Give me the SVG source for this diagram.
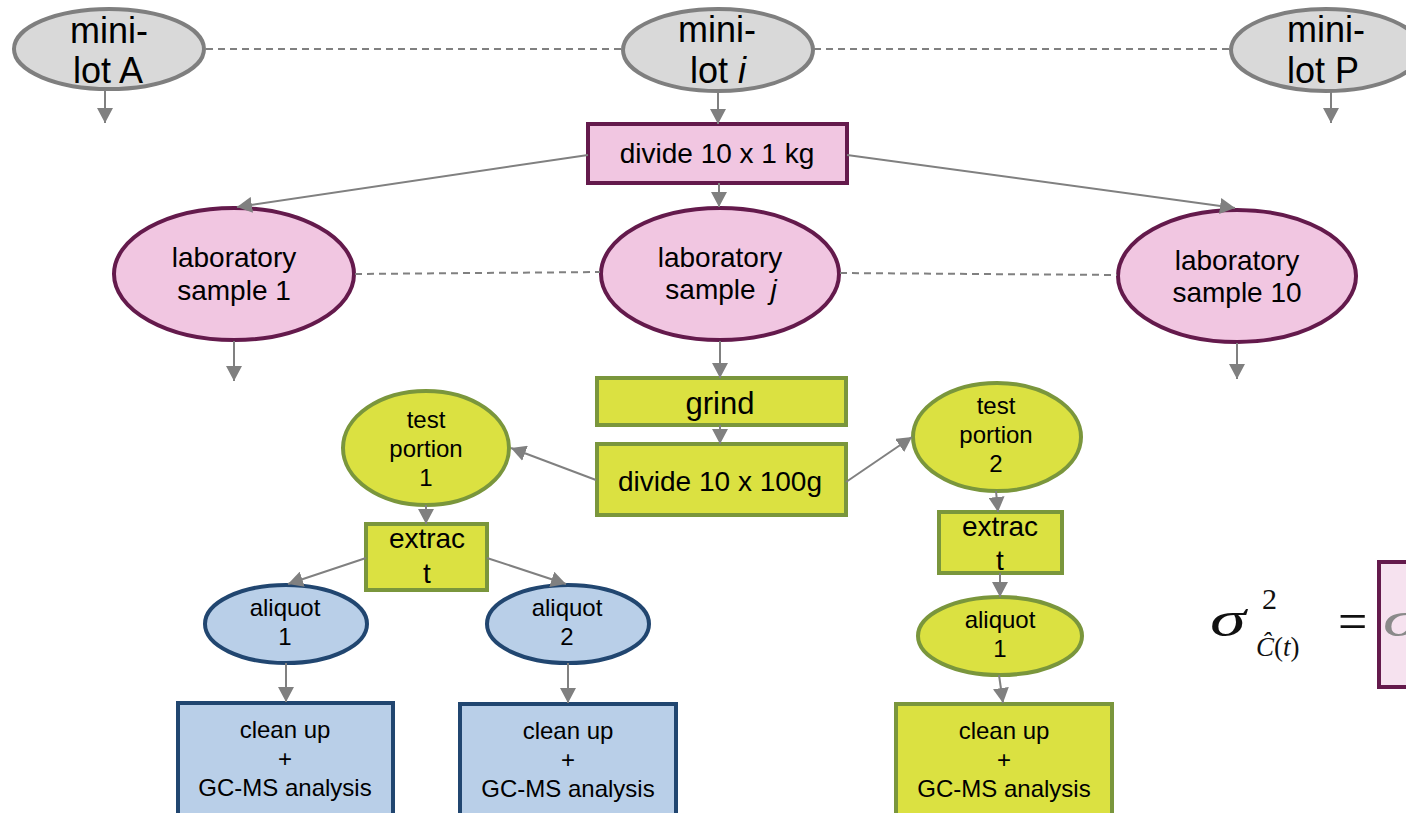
<svg xmlns="http://www.w3.org/2000/svg" width="1406" height="813" viewBox="0 0 1406 813">
  <defs>
    <marker id="arrow" markerUnits="userSpaceOnUse" markerWidth="16" markerHeight="16" refX="15" refY="8" orient="auto">
      <path d="M0,0 L15,8 L0,16 Z" fill="#808080"/>
    </marker>
    <style>
      text { font-family: "Liberation Sans", Arial, sans-serif; fill: #000; text-anchor: middle; }
      .lot { fill: #d9d9d9; stroke: #7f7f7f; stroke-width: 4; }
      .pink { fill: #f1c6e1; stroke: #641a4c; stroke-width: 4; }
      .green { fill: #dbe141; stroke: #7a963c; stroke-width: 4; }
      .blue { fill: #b9cfe8; stroke: #214670; stroke-width: 4; }
      .t36 { font-size: 36px; }
      .t31 { font-size: 31px; }
      .t28 { font-size: 28px; }
      .t24 { font-size: 24px; }
      .link { stroke: #808080; stroke-width: 2; fill: none; marker-end: url(#arrow); }
      .dash { stroke: #808080; stroke-width: 2; fill: none; stroke-dasharray: 7 5; }
      .math { font-family: "Liberation Serif", "Times New Roman", serif; text-anchor: start; fill: #111; }
    </style>
  </defs>

  <!-- mini-lots -->
  <g id="minilot-a">
    <ellipse class="lot" cx="109" cy="49" rx="95" ry="40"/>
    <text class="t36" x="109" y="43">mini-</text>
    <text class="t36" x="108" y="83">lot A</text>
  </g>
  <g id="minilot-i">
    <ellipse class="lot" cx="718" cy="50" rx="95" ry="41"/>
    <text class="t36" x="717" y="42">mini-</text>
    <text class="t36" x="718" y="83">lot <tspan font-style="italic">i</tspan></text>
  </g>
  <g id="minilot-p">
    <ellipse class="lot" cx="1326" cy="50" rx="95" ry="41"/>
    <text class="t36" x="1326" y="42">mini-</text>
    <text class="t36" x="1323" y="83">lot P</text>
  </g>

  <!-- primary division -->
  <g id="divide-1kg">
    <rect class="pink" x="588" y="124" width="259" height="59"/>
    <text class="t28" x="717" y="163">divide 10 x 1 kg</text>
  </g>

  <!-- laboratory samples -->
  <g id="lab-1">
    <ellipse class="pink" cx="234" cy="274" rx="120" ry="66"/>
    <text class="t28" x="234" y="267">laboratory</text>
    <text class="t28" x="234" y="300">sample 1</text>
  </g>
  <g id="lab-j">
    <ellipse class="pink" cx="720" cy="274" rx="119" ry="66"/>
    <text class="t28" x="720" y="267">laboratory</text>
    <text class="t28" x="721" y="299">sample <tspan dx="7" font-style="italic">j</tspan></text>
  </g>
  <g id="lab-10">
    <ellipse class="pink" cx="1237" cy="276" rx="119" ry="66"/>
    <text class="t28" x="1237" y="270">laboratory</text>
    <text class="t28" x="1237" y="302">sample 10</text>
  </g>

  <!-- grinding and sub-division -->
  <g id="grind">
    <rect class="green" x="597" y="378" width="249" height="47"/>
    <text class="t31" x="720" y="414">grind</text>
  </g>
  <g id="divide-100g">
    <rect class="green" x="597" y="444" width="249" height="71"/>
    <text class="t28" x="720" y="491">divide 10 x 100g</text>
  </g>

  <!-- test portions -->
  <g id="test-portion-1">
    <ellipse class="green" cx="426" cy="448" rx="83" ry="57"/>
    <text class="t24" x="426" y="428">test</text>
    <text class="t24" x="426" y="457">portion</text>
    <text class="t24" x="426" y="486">1</text>
  </g>
  <g id="test-portion-2">
    <ellipse class="green" cx="997" cy="437" rx="84" ry="54"/>
    <text class="t24" x="996" y="414">test</text>
    <text class="t24" x="996" y="443">portion</text>
    <text class="t24" x="996" y="472">2</text>
  </g>

  <!-- extraction -->
  <g id="extract-1">
    <rect class="green" x="366" y="524" width="121" height="66"/>
    <text class="t28" x="427" y="548">extrac</text>
    <text class="t28" x="427" y="583">t</text>
  </g>
  <g id="extract-2">
    <rect class="green" x="939" y="512" width="123" height="61"/>
    <text class="t28" x="1000" y="536">extrac</text>
    <text class="t28" x="1000" y="570">t</text>
  </g>

  <!-- aliquots -->
  <g id="aliquot-1a">
    <ellipse class="blue" cx="286" cy="624" rx="81" ry="39"/>
    <text class="t24" x="285" y="616">aliquot</text>
    <text class="t24" x="285" y="645">1</text>
  </g>
  <g id="aliquot-2a">
    <ellipse class="blue" cx="568" cy="624" rx="81" ry="39"/>
    <text class="t24" x="567" y="616">aliquot</text>
    <text class="t24" x="567" y="645">2</text>
  </g>
  <g id="aliquot-1b">
    <ellipse class="green" cx="1000" cy="636" rx="82" ry="39"/>
    <text class="t24" x="1000" y="628">aliquot</text>
    <text class="t24" x="1000" y="657">1</text>
  </g>

  <!-- clean up and analysis -->
  <g id="cleanup-1">
    <rect class="blue" x="178" y="703" width="215" height="120"/>
    <text class="t24" x="285" y="738">clean up</text>
    <text class="t24" x="285" y="767">+</text>
    <text class="t24" x="285" y="796">GC-MS analysis</text>
  </g>
  <g id="cleanup-2">
    <rect class="blue" x="460" y="704" width="216" height="120"/>
    <text class="t24" x="568" y="739">clean up</text>
    <text class="t24" x="568" y="768">+</text>
    <text class="t24" x="568" y="797">GC-MS analysis</text>
  </g>
  <g id="cleanup-3">
    <rect class="green" x="896" y="704" width="216" height="120"/>
    <text class="t24" x="1004" y="739">clean up</text>
    <text class="t24" x="1004" y="768">+</text>
    <text class="t24" x="1004" y="797">GC-MS analysis</text>
  </g>

  <!-- variance expression -->
  <g id="variance">
    <rect x="1379" y="562" width="60" height="125" fill="#f6e2ef" stroke="#641a4c" stroke-width="4"/>
    <text class="math" font-size="50" font-style="italic" transform="translate(1210,636) scale(1.45,1)">σ</text>
    <text class="math" x="1262" y="609" font-size="30">2</text>
    <text class="math" x="1256" y="656" font-size="27"><tspan font-style="italic">Ĉ</tspan>(<tspan font-style="italic">t</tspan>)</text>
    <text class="math" x="1338" y="639" font-size="52">=</text>
    <text class="math" font-size="50" font-style="italic" style="fill:#8a8a8a" transform="translate(1383,636) scale(1.45,1)">σ</text>
  </g>

  <!-- connectors -->
  <g id="connectors">
    <line class="dash" x1="206" y1="49" x2="622" y2="49"/>
    <line class="dash" x1="814" y1="49" x2="1230" y2="49"/>
    <line class="dash" x1="355" y1="274" x2="600" y2="272"/>
    <line class="dash" x1="840" y1="273" x2="1117" y2="275"/>

    <line class="link" x1="105" y1="90" x2="105" y2="123"/>
    <line class="link" x1="718" y1="92" x2="718" y2="124"/>
    <line class="link" x1="1331" y1="92" x2="1331" y2="123"/>

    <line class="link" x1="588" y1="155" x2="237" y2="207"/>
    <line class="link" x1="719" y1="183" x2="719" y2="207"/>
    <line class="link" x1="847" y1="155" x2="1235" y2="208"/>

    <line class="link" x1="234" y1="341" x2="234" y2="381"/>
    <line class="link" x1="720" y1="341" x2="720" y2="378"/>
    <line class="link" x1="1237" y1="343" x2="1237" y2="379"/>

    <line class="link" x1="720" y1="425" x2="720" y2="444"/>
    <line class="link" x1="596" y1="480" x2="511" y2="448"/>
    <line class="link" x1="846" y1="482" x2="912" y2="437"/>

    <line class="link" x1="426" y1="505" x2="426" y2="524"/>
    <line class="link" x1="996" y1="491" x2="998" y2="512"/>

    <line class="link" x1="366" y1="558" x2="288" y2="584"/>
    <line class="link" x1="487" y1="558" x2="566" y2="584"/>
    <line class="link" x1="1000" y1="573" x2="1000" y2="597"/>

    <line class="link" x1="286" y1="663" x2="286" y2="702"/>
    <line class="link" x1="568" y1="663" x2="568" y2="703"/>
    <line class="link" x1="999" y1="675" x2="1003" y2="703"/>
  </g>
</svg>
